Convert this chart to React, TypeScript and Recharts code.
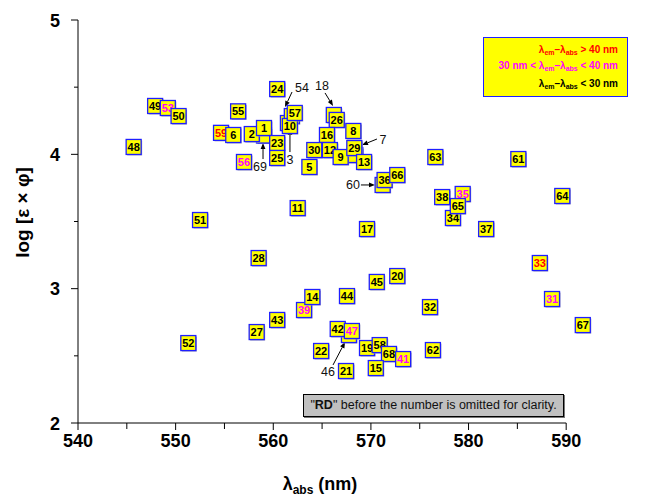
import { ScatterChart, Scatter, XAxis, YAxis, ReferenceLine } from "recharts";

// compound numbers (draw order: hidden markers first)
const ids = [
  69, 3, 54, 18, 7, 60, 46, 48, 49, 53, 50, 55, 59, 6, 2, 1, 56, 24, 23, 25, 10, 57, 26, 8, 16, 30,
  12, 9, 29, 13, 5, 36, 66, 63, 61, 38, 35, 34, 65, 64, 37, 33, 31, 67, 51, 28, 43, 27, 52, 11, 17,
  45, 20, 44, 39, 14, 32, 42, 47, 22, 21, 19, 58, 68, 41, 15, 62,
];

// λabs (nm)
const absNm = [
  559.05, 561.5, 561.9, 566.2, 568.4, 571.2, 567.75, 545.7, 547.9, 549.2, 550.3, 556.4, 554.65,
  555.9, 557.8, 559.05, 557.0, 560.4, 560.4, 560.4, 561.7, 562.2, 566.5, 568.2, 565.5, 564.2, 565.8,
  566.9, 568.3, 569.3, 563.7, 571.4, 572.7, 576.6, 585.1, 577.3, 579.4, 578.4, 578.9, 589.6, 581.8,
  587.3, 588.55, 591.7, 552.5, 558.5, 560.4, 558.3, 551.3, 562.5, 569.6, 570.6, 572.7, 567.55,
  563.15, 564.0, 576.05, 566.6, 568.05, 564.9, 567.45, 569.6, 570.9, 571.85, 573.3, 570.5, 576.35,
];

// log [ε × φ]
const logEps = [
  4.14, 4.233, 4.285, 4.293, 3.995, 3.772, 2.655, 4.055, 4.36, 4.345, 4.285, 4.32, 4.16, 4.144,
  4.151, 4.196, 3.943, 4.486, 4.084, 3.973, 4.211, 4.308, 4.256, 4.174, 4.144, 4.032, 4.032, 3.98,
  4.047, 3.943, 3.906, 3.809, 3.846, 3.98, 3.965, 3.682, 3.705, 3.526, 3.615, 3.69, 3.444, 3.191,
  2.923, 2.729, 3.511, 3.228, 2.767, 2.677, 2.595, 3.6, 3.444, 3.05, 3.094, 2.945, 2.841, 2.938,
  2.863, 2.7, 2.685, 2.536, 2.387, 2.558, 2.58, 2.514, 2.476, 2.409, 2.543,
];

// Stokes shift groups
const redIds = [59, 33];
const magentaIds = [53, 56, 39, 47, 41, 35, 31];

// callouts for hidden markers: label position and arrow [x1, y1, x2, y2]
const calloutIds = [69, 3, 54, 18, 7, 60, 46];
const calloutAt = [
  [558.64, 3.906], [561.71, 3.958], [562.94, 4.501], [564.99, 4.509],
  [571.24, 4.107], [568.16, 3.772], [565.6, 2.38],
];
const calloutArrows = [
  [558.95, 3.965, 558.95, 4.084],
  [561.71, 4.017, 561.71, 4.189],
  [561.92, 4.464, 561.2, 4.352],
  [565.3, 4.457, 566.12, 4.36],
  [570.62, 4.114, 569.09, 4.069],
  [568.98, 3.772, 570.42, 3.772],
  [566.12, 2.432, 567.35, 2.603],
];

const xTicks = [540, 545, 550, 555, 560, 565, 570, 575, 580, 585, 590];
const yTicks = [2, 2.5, 3, 3.5, 4, 4.5, 5];

const FONT = "'Liberation Sans', Arial, Helvetica, sans-serif";

const points = ids.map((id, i) => ({
  id,
  x: absNm[i],
  y: logEps[i],
  hidden: calloutIds.includes(id),
  color: redIds.includes(id) ? "#ff0000" : magentaIds.includes(id) ? "#ff00ff" : "#000000",
}));

const callouts = calloutIds.map((id, i) => ({ id, x: calloutAt[i][0], y: calloutAt[i][1] }));

const Marker = (props: any) => {
  const { cx, cy, payload } = props;
  if (cx == null || cy == null) return null;
  return (
    <g>
      <rect x={cx - 6.5} y={cy - 6.5} width={15} height={15} fill="#9c9cb8" />
      <rect
        x={cx - 7.5}
        y={cy - 7.5}
        width={15}
        height={15}
        fill="#ffff00"
        stroke="#1e1eff"
        strokeWidth={1.3}
      />
      {/* markers covered by others are named by a callout instead */}
      {!payload.hidden && (
        <text
          x={cx}
          y={cy + 4}
          textAnchor="middle"
          fontFamily={FONT}
          fontSize={11}
          fontWeight="bold"
          fill={payload.color}
        >
          {payload.id}
        </text>
      )}
    </g>
  );
};

const CalloutText = (props: any) => {
  const { cx, cy, payload } = props;
  if (cx == null || cy == null) return null;
  return (
    <text x={cx} y={cy + 4.5} textAnchor="middle" fontFamily={FONT} fontSize={12.5} fill="#111">
      {payload.id}
    </text>
  );
};

const Arrow = (props: any) => {
  const { x1, y1, x2, y2 } = props;
  const ang = Math.atan2(y2 - y1, x2 - x1);
  const len = 6;
  const w = 2.4;
  const bx = x2 - len * Math.cos(ang);
  const by = y2 - len * Math.sin(ang);
  const px = -Math.sin(ang) * w;
  const py = Math.cos(ang) * w;
  return (
    <g>
      <line x1={x1} y1={y1} x2={bx} y2={by} stroke="#000" strokeWidth={1} />
      <polygon points={`${x2},${y2} ${bx + px},${by + py} ${bx - px},${by - py}`} fill="#000" />
    </g>
  );
};

const XTick = (props: any) => {
  const { x, y, payload } = props;
  const major = payload.value % 10 === 0;
  return (
    <g>
      <line x1={x} y1={y} x2={x} y2={y + (major ? 7 : 6)} stroke="#000" strokeWidth={1} />
      {major && (
        <text x={x} y={y + 24} textAnchor="middle" fontFamily={FONT} fontSize={18} fontWeight="bold" fill="#000">
          {payload.value}
        </text>
      )}
    </g>
  );
};

const YTick = (props: any) => {
  const { x, y, payload } = props;
  const major = Number.isInteger(payload.value);
  return (
    <g>
      <line x1={x - (major ? 7 : 4)} y1={y} x2={x} y2={y} stroke="#000" strokeWidth={1} />
      {major && (
        <text x={x - 18} y={y + 6.5} textAnchor="end" fontFamily={FONT} fontSize={18} fontWeight="bold" fill="#000">
          {payload.value}
        </text>
      )}
    </g>
  );
};

const YTitle = (props: any) => {
  const { viewBox } = props;
  const cx = 22;
  const cy = viewBox.y + viewBox.height / 2 - 9;
  return (
    <text
      x={cx}
      y={cy}
      transform={`rotate(-90 ${cx} ${cy})`}
      textAnchor="middle"
      dominantBaseline="central"
      fontFamily={FONT}
      fontSize={19}
      fontWeight="bold"
      fill="#000"
    >
      log [ε × φ]
    </text>
  );
};

const XTitle = (props: any) => {
  const { viewBox } = props;
  return (
    <text x={320} y={viewBox.y + 67} textAnchor="middle" fontFamily={FONT} fontSize={18} fontWeight="bold" fill="#000">
      λ<tspan fontSize={12} dy={4}>abs</tspan>
      <tspan dy={-4}> (nm)</tspan>
    </text>
  );
};

const subStyle = { fontSize: 7, verticalAlign: "-2px", lineHeight: 0 } as const;

export default function App() {
  return (
    <div style={{ position: "absolute", left: 0, top: 0, width: 647, height: 500, background: "#fff" }}>
      <ScatterChart width={647} height={500} margin={{ top: 20, right: 32, bottom: 0, left: 0 }}>
        <XAxis
          type="number"
          dataKey="x"
          domain={[540, 595]}
          ticks={xTicks}
          interval={0}
          axisLine={false}
          tickLine={false}
          tickSize={0}
          tickMargin={0}
          tick={<XTick />}
          height={77}
          label={<XTitle />}
        />
        <YAxis
          type="number"
          dataKey="y"
          domain={[2, 5]}
          ticks={yTicks}
          interval={0}
          axisLine={{ stroke: "#000", strokeWidth: 1 }}
          tickLine={false}
          tickSize={0}
          tickMargin={0}
          tick={<YTick />}
          width={78}
          label={<YTitle />}
        />
        <ReferenceLine
          segment={[{ x: 540, y: 2 }, { x: 590, y: 2 }]}
          stroke="#000"
          strokeWidth={1}
          ifOverflow="visible"
        />
        {calloutArrows.map((a, i) => (
          <ReferenceLine
            key={i}
            segment={[{ x: a[0], y: a[1] }, { x: a[2], y: a[3] }]}
            ifOverflow="visible"
            shape={<Arrow />}
          />
        ))}
        <Scatter data={callouts} shape={<CalloutText />} isAnimationActive={false} />
        <Scatter data={points} shape={<Marker />} isAnimationActive={false} />
      </ScatterChart>

      <div
        style={{
          position: "absolute",
          left: 483,
          top: 37,
          width: 143,
          height: 58,
          background: "#ffff00",
          border: "1.5px solid #2020ff",
          fontFamily: FONT,
          fontWeight: "bold",
          fontSize: 10,
          textAlign: "right",
          boxSizing: "content-box",
        }}
      >
        <div style={{ position: "absolute", right: 9, top: 6, color: "#ff0000", whiteSpace: "nowrap" }}>
          λ<span style={subStyle}>em</span>–λ<span style={subStyle}>abs</span> &gt; 40 nm
        </div>
        <div style={{ position: "absolute", right: 9, top: 22, color: "#ff00ff", whiteSpace: "nowrap" }}>
          30 nm &lt; λ<span style={subStyle}>em</span>–λ<span style={subStyle}>abs</span> &lt; 40 nm
        </div>
        <div style={{ position: "absolute", right: 9, top: 40, color: "#000", whiteSpace: "nowrap" }}>
          λ<span style={subStyle}>em</span>–λ<span style={subStyle}>abs</span> &lt; 30 nm
        </div>
      </div>

      <div
        style={{
          position: "absolute",
          left: 303,
          top: 394,
          width: 259,
          height: 21,
          background: "#c0c0c0",
          border: "1px solid #000",
          boxShadow: "1px 1px 0 #777",
          fontFamily: FONT,
          fontSize: 12.5,
          lineHeight: "21px",
          textAlign: "center",
          color: "#111",
          whiteSpace: "nowrap",
        }}
      >
        "<b>RD</b>" before the number is omitted for clarity.
      </div>
    </div>
  );
}
